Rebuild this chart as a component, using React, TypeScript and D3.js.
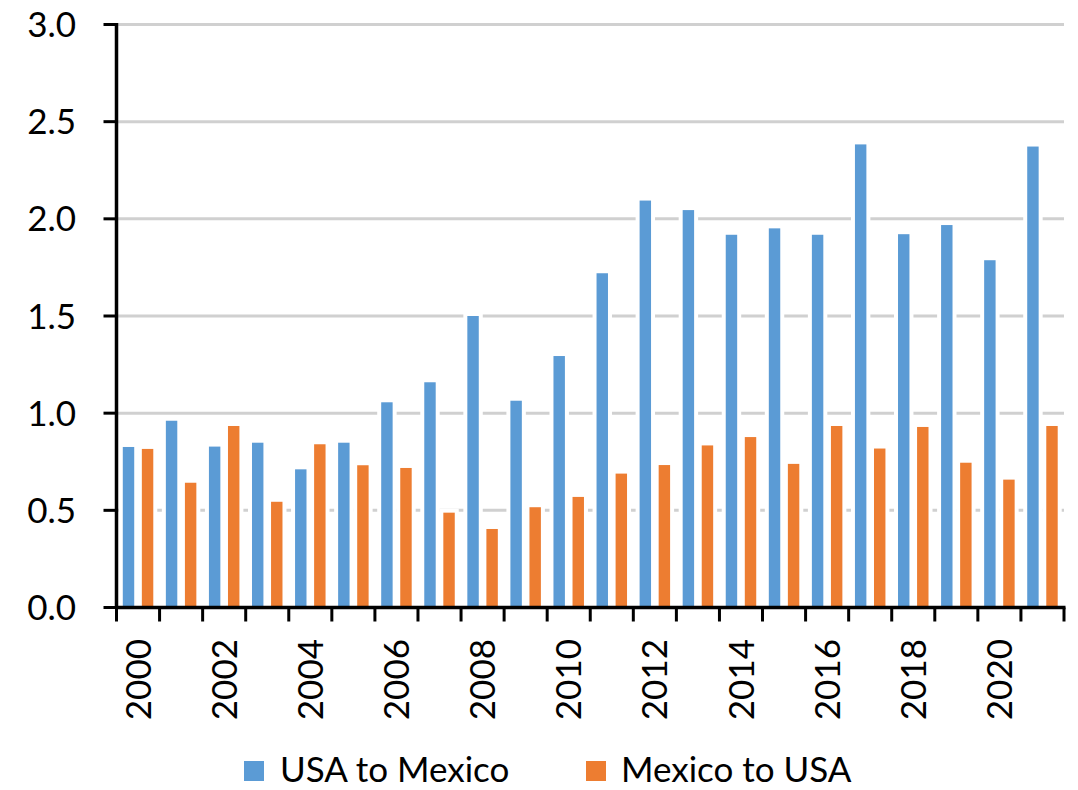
import React from "react";
import * as d3 from "d3";

const YEARS = [
  "2000", "2001", "2002", "2003", "2004", "2005", "2006", "2007", "2008", "2009", "2010",
  "2011", "2012", "2013", "2014", "2015", "2016", "2017", "2018", "2019", "2020", "2021",
];
const USA_TO_MEXICO = [
  0.826, 0.961, 0.828, 0.848, 0.711, 0.848, 1.056, 1.159, 1.5, 1.064, 1.294,
  1.72, 2.094, 2.045, 1.918, 1.951, 1.918, 2.383, 1.921, 1.968, 1.787, 2.372,
];
const MEXICO_TO_USA = [
  0.816, 0.642, 0.934, 0.544, 0.84, 0.732, 0.718, 0.488, 0.404, 0.516, 0.569,
  0.689, 0.733, 0.834, 0.877, 0.739, 0.934, 0.818, 0.929, 0.745, 0.658, 0.934,
];
const SERIES_NAMES = ["USA to Mexico", "Mexico to USA"];
const Y_TICKS = [0, 0.5, 1.0, 1.5, 2.0, 2.5, 3.0];

const COLORS = ["#5B9BD5", "#ED7D31"];
const FONT = "Lato, 'Open Sans', sans-serif";

const W = 1078;
const H = 790;
const PLOT = { left: 116.5, right: 1064, top: 24.5, bottom: 607.5 };

export default function App() {
  const x = d3.scaleBand<string>().domain(YEARS).range([PLOT.left, PLOT.right]);
  const inner = d3
    .scaleBand<string>()
    .domain(SERIES_NAMES)
    .range([0, x.bandwidth()])
    .paddingInner(0.4)
    .paddingOuter(0.33);
  const y = d3.scaleLinear().domain([0, 3]).range([PLOT.bottom, PLOT.top]);

  const series = [USA_TO_MEXICO, MEXICO_TO_USA];
  const bars = series.flatMap((vals, si) =>
    vals.map((v, i) => ({
      key: `${si}-${i}`,
      x: (x(YEARS[i]) ?? 0) + (inner(SERIES_NAMES[si]) ?? 0),
      y: y(v),
      w: inner.bandwidth(),
      h: y(0) - y(v),
      color: COLORS[si],
    })),
  );

  // white halo around each bar interrupts the gridlines, like the original
  const halo = 4;
  const boundaries = YEARS.map((yr) => x(yr) ?? 0).concat([PLOT.right]);

  const legendBaseline = 782;
  const legend = [
    { name: SERIES_NAMES[0], sx: 244, tx: 280, color: COLORS[0] },
    { name: SERIES_NAMES[1], sx: 586, tx: 621, color: COLORS[1] },
  ];

  return (
    <svg
      width={W}
      height={H}
      style={{ position: "absolute", left: 0, top: 0, background: "#fff" }}
      fontFamily={FONT}
    >
      <rect width={W} height={H} fill="#fff" />

      {Y_TICKS.filter((t) => t > 0).map((t) => (
        <line
          key={`g${t}`}
          x1={PLOT.left}
          x2={PLOT.right}
          y1={y(t)}
          y2={y(t)}
          stroke="#d0d0d0"
          strokeWidth={3}
        />
      ))}

      {bars.map((b) => (
        <rect
          key={`h${b.key}`}
          x={b.x - halo}
          y={b.y - halo}
          width={b.w + halo * 2}
          height={b.h + halo}
          fill="#fff"
        />
      ))}

      {bars.map((b) => (
        <rect key={b.key} x={b.x} y={b.y} width={b.w} height={b.h} fill={b.color} />
      ))}

      {/* y axis */}
      <line x1={PLOT.left} x2={PLOT.left} y1={PLOT.top - 1.5} y2={PLOT.bottom + 1.5} stroke="#000" strokeWidth={3.5} />
      {Y_TICKS.map((t) => (
        <g key={`yt${t}`}>
          <line x1={PLOT.left - 13} x2={PLOT.left} y1={y(t)} y2={y(t)} stroke="#000" strokeWidth={3} />
          <text x={76} y={y(t)} dy="0.36em" textAnchor="end" fontSize={35} fill="#000">
            {d3.format(".1f")(t)}
          </text>
        </g>
      ))}

      {/* x axis */}
      <line x1={PLOT.left} x2={PLOT.right + 1.5} y1={PLOT.bottom} y2={PLOT.bottom} stroke="#000" strokeWidth={3.5} />
      {boundaries.map((bx, i) => (
        <line key={`xt${i}`} x1={bx} x2={bx} y1={PLOT.bottom} y2={PLOT.bottom + 14} stroke="#000" strokeWidth={3} />
      ))}
      {YEARS.filter((_, i) => i % 2 === 0).map((yr) => {
        const cx = (x(yr) ?? 0) + x.bandwidth() / 2;
        return (
          <text
            key={`xl${yr}`}
            transform={`translate(${cx},639) rotate(-90)`}
            dy="0.36em"
            textAnchor="end"
            fontSize={35}
            fill="#000"
          >
            {yr}
          </text>
        );
      })}

      {/* legend */}
      {legend.map((l) => (
        <g key={l.name}>
          <rect x={l.sx} y={legendBaseline - 21} width={20} height={20} fill={l.color} />
          <text x={l.tx} y={legendBaseline} fontSize={35} fill="#000">
            {l.name}
          </text>
        </g>
      ))}
    </svg>
  );
}
